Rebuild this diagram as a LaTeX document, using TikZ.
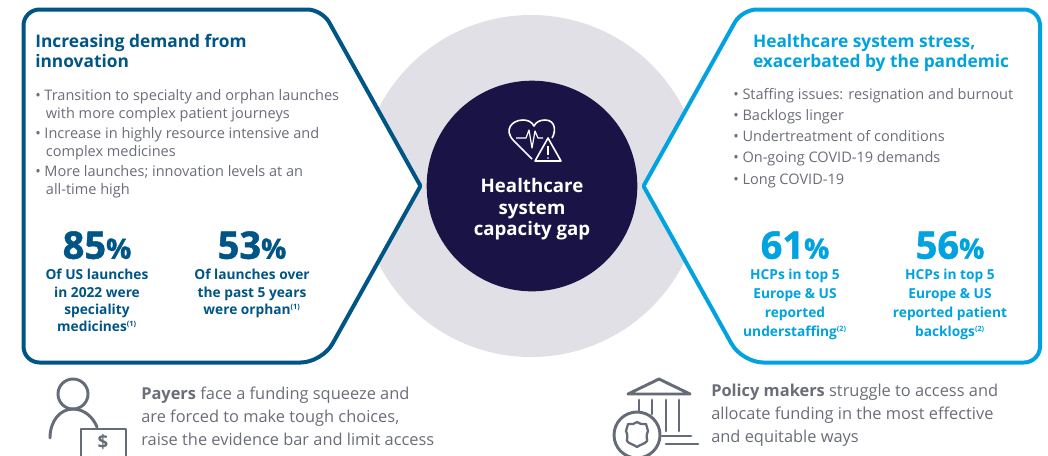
\documentclass[tikz,border=0pt]{standalone}
\usepackage{fontspec}
\setmainfont{Open Sans}
\newfontfamily\xbfam[BoldFeatures={FakeBold=1.3}]{Open Sans}
\definecolor{navyb}{HTML}{005587}
\definecolor{cyanb}{HTML}{00A3E0}
\definecolor{inkc}{HTML}{1A1446}
\definecolor{greyt}{HTML}{6B6E78}
\definecolor{iconc}{HTML}{666B78}
\definecolor{disc}{HTML}{E1E0E6}
\tikzset{
 x=0.75pt,y=-0.75pt,
 panel/.style={line width=3pt,fill=white,line join=round},
 txt/.style={anchor=north west,inner sep=0pt,align=left,font=\fontsize{10.9}{13.5}\selectfont,text=greyt},
 head/.style={inner sep=0pt,font=\fontsize{13}{15}\selectfont\bfseries},
 stat/.style={anchor=north,inner sep=0pt,align=center,font=\fontsize{10.3}{13}\selectfont\bfseries},
 statr/.style={anchor=north,inner sep=0pt,align=center,font=\fontsize{10.3}{14.2}\selectfont\bfseries},
 big/.style={anchor=north,inner sep=0pt,font=\fontsize{28.5}{30}\selectfont\xbfam\bfseries},
 foot/.style={anchor=north west,inner sep=0pt,align=left,font=\fontsize{12.3}{17.3}\selectfont,text=greyt},
 icon/.style={draw=iconc,line width=2.2pt,line cap=round,line join=round},
 wicon/.style={draw=white,line width=1.2pt,line join=round},
}
\newcommand{\pct}{\fontsize{21}{22}\selectfont\%}
\newcommand{\fn}[1]{\textsuperscript{\fontsize{5.5}{6}\selectfont(#1)}}
\begin{document}
\begin{tikzpicture}
\useasboundingbox (0,0) rectangle (1048,455);
\clip (0,0) rectangle (1048,455);
\fill[white] (0,0) rectangle (1048,455);
\node[circle,fill=disc,minimum size=256.5pt,inner sep=0pt] (disc) at (531,186) {};
\draw[panel,draw=navyb] (100,9.5) [rounded corners=11pt] -- (322,9.5) [rounded corners=1pt] -- (420.5,186) [rounded corners=16pt] -- (322,362.5) [rounded corners=12pt] -- (23.5,362.5) -- (23.5,9.5) -- cycle;
\draw[panel,draw=cyanb] (964,9.5) [rounded corners=11pt] -- (742,9.5) [rounded corners=1pt] -- (643.5,186) [rounded corners=16pt] -- (742,362.5) [rounded corners=12pt] -- (1040,362.5) -- (1040,9.5) -- cycle;
\node[circle,fill=inkc,minimum size=158pt,inner sep=0pt] (hub) at (532,186) {};
\node[anchor=north,inner sep=0pt,align=center,text=white,font=\fontsize{14}{16.2}\selectfont\bfseries] (hubt) at (532,178) {Healthcare\\system\\capacity gap};
% heart icon
\draw[wicon] (532,159) -- (514,141) .. controls (503,130) and (512,120) .. (523,120) .. controls (528,120) and (532,122) .. (534,126) .. controls (536,122) and (540,120) .. (545,120) .. controls (556,120) and (556,132) .. (552,138);
\draw[wicon,line width=0.9pt] (516,138) -- (526,138) -- (529,130) -- (532,148) -- (535,131) -- (538,138) -- (543,138);
\draw[wicon,fill=inkc] (548,138) -- (561,161) -- (535,161) -- cycle;
\draw[draw=white,line width=0.8pt] (548,146) -- (548,155);
\fill[white] (548,158) circle (0.8);
% left text
\node[head,anchor=north west,align=left,text=navyb] (lh) at (35,34) {Increasing demand from\\innovation};
\node[txt] (lb) at (35,89.5) {\textbullet\ Transition to specialty and orphan launches\\\hspace*{8pt}with more complex patient journeys\\[1.2pt]\textbullet\ Increase in highly resource intensive and\\\hspace*{8pt}complex medicines\\[1.2pt]\textbullet\ More launches; innovation levels at an\\\hspace*{8pt}all-time high};
\node[big,text=navyb] (s1) at (97,231) {85\pct};
\node[stat,text=navyb] (s1t) at (97,269) {Of US launches\\in 2022 were\\speciality\\medicines\fn{1}};
\node[big,text=navyb] (s2) at (252,231) {53\pct};
\node[stat,text=navyb] (s2t) at (252,269) {Of launches over\\the past 5 years\\were orphan\fn{1}};
% right text
\node[head,anchor=north,align=left,text=cyanb] (rh) at (881,34) {Healthcare system stress,\\exacerbated by the pandemic};
\node[txt] (rb) at (733,88) {\textbullet\ Staffing issues: resignation and burnout\\[2.4pt]\textbullet\ Backlogs linger\\[2.4pt]\textbullet\ Undertreatment of conditions\\[2.4pt]\textbullet\ On-going COVID-19 demands\\[2.4pt]\textbullet\ Long COVID-19};
\node[big,text=cyanb] (s3) at (795,231) {61\pct};
\node[statr,text=cyanb] (s3t) at (795,269) {HCPs in top 5\\Europe \& US\\reported\\understaffing\fn{2}};
\node[big,text=cyanb] (s4) at (950,231) {56\pct};
\node[statr,text=cyanb] (s4t) at (950,269) {HCPs in top 5\\Europe \& US\\reported patient\\backlogs\fn{2}};
% footer
\node[foot] (f1) at (141,387) {\textbf{Payers} face a funding squeeze and\\are forced to make tough choices,\\raise the evidence bar and limit access};
\node[foot] (f2) at (711,384) {\textbf{Policy makers} struggle to access and\\allocate funding in the most effective\\and equitable ways};
% payer icon
\draw[icon] (73,394) circle (15);
\draw[icon] (50,438) .. controls (50,421) and (60,409) .. (73,409) .. controls (84,409) and (93,417) .. (97,427);
\draw[icon] (81,429) rectangle (126,460);
\node[inner sep=0pt,text=iconc,font=\fontsize{14}{14}\selectfont\bfseries] (dollar) at (103,442) {\$};
% policy icon
\draw[icon] (628,394) -- (659,379) -- (690,394) -- cycle;
\draw[icon] (639,400) -- (639,412);
\draw[icon] (652,400) -- (652,414);
\draw[icon] (666,400) -- (666,431);
\draw[icon] (679,400) -- (679,431);
\draw[icon] (662,436) -- (691,436);
\draw[icon] (666,444) -- (698,444);
\draw[icon] (637,435) circle (23);
\draw[icon,line width=1.7pt] (637,422) -- (641,424) -- (646,424) -- (648,431) .. controls (645,438) and (648,440) .. (647,441) .. controls (645,444) and (641,444) .. (637,447) .. controls (633,444) and (629,444) .. (627,441) .. controls (626,440) and (629,438) .. (626,431) -- (628,424) -- (633,424) -- cycle;
\end{tikzpicture}
\end{document}
